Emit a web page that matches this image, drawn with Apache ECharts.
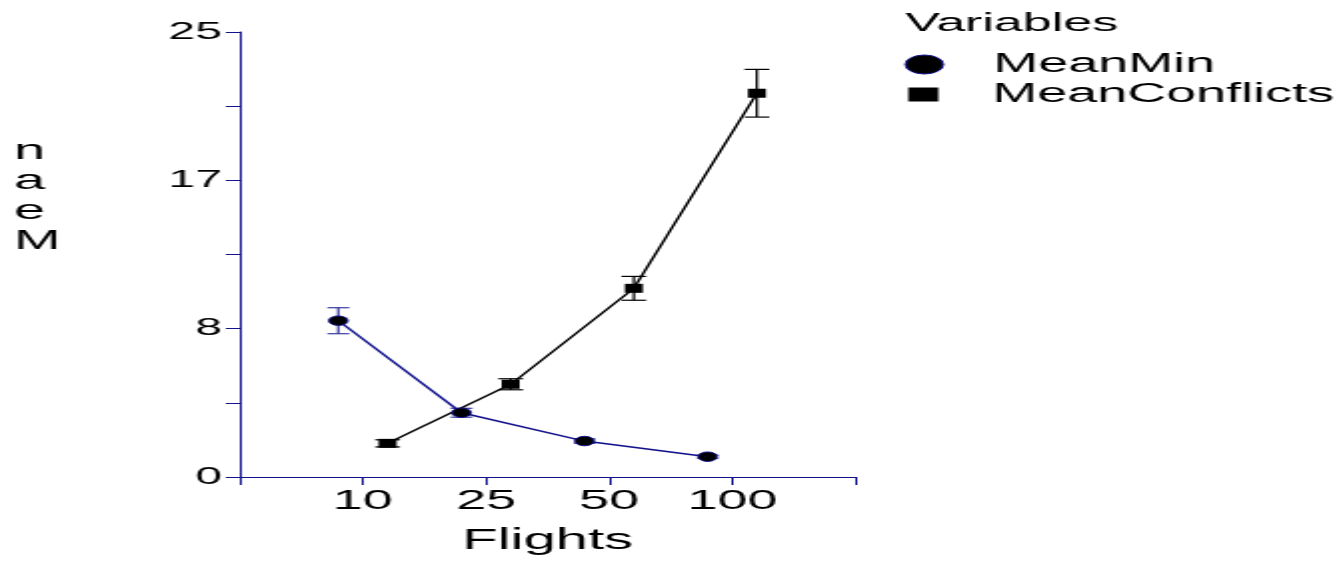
<!DOCTYPE html>
<html><head><meta charset="utf-8">
<script src="https://cdn.jsdelivr.net/npm/echarts@6/dist/echarts.min.js"></script>
<style>
html,body{margin:0;padding:0;background:#fff;overflow:hidden;width:1337px;height:561px}
#wrap{width:1337px;height:561px;overflow:hidden;position:relative}
#chart{width:669px;height:561px;transform:scaleX(1.998505);transform-origin:0 0;position:absolute;left:0;top:0}
</style></head><body>
<div id="wrap"><div id="chart"></div></div>
<script>
// Data
const categories = ['10', '25', '50', '100'];
const meanMin = [8.78, 3.61, 2.02, 1.14];
const meanMinErr = [0.73, 0.25, 0.12, 0.08];
const meanConflicts = [1.89, 5.21, 10.6, 21.56];
const meanConflictsErr = [0.2, 0.31, 0.67, 1.34];
const yTickLabels = ['0', '8', '17', '25'];

const NAVY = '#12128c';
const FONT = '"Liberation Sans", Arial, Helvetica, sans-serif';
const DODGE = 0.2;

const chart = echarts.init(document.getElementById('chart'), null, {renderer: 'canvas'});

function pts(vals, off) { return vals.map((v, i) => [i + 1 + off, v]); }

function errSeries(name, vals, errs, off, color, capHalf) {
  return {
    type: 'custom', name: name, silent: true, z: 1,
    renderItem: function (params, api) {
      const x = api.value(0), y = api.value(1), e = api.value(2);
      const t = api.coord([x, y + e]);
      const b = api.coord([x, y - e]);
      const st = {stroke: color, lineWidth: 1.2};
      return {type: 'group', children: [
        {type: 'line', shape: {x1: t[0], y1: t[1], x2: b[0], y2: b[1]}, style: st},
        {type: 'line', shape: {x1: t[0] - capHalf, y1: t[1], x2: t[0] + capHalf, y2: t[1]}, style: st},
        {type: 'line', shape: {x1: b[0] - capHalf, y1: b[1], x2: b[0] + capHalf, y2: b[1]}, style: st}
      ]};
    },
    data: vals.map((v, i) => [i + 1 + off, v, errs[i]])
  };
}

const option = {
  animation: false,
  backgroundColor: '#fff',
  grid: {left: 120, right: 241, top: 32, bottom: 84, containLabel: false},
  xAxis: {
    type: 'value', min: 0, max: 5, interval: 1,
    name: 'Flights', nameLocation: 'middle', nameGap: 49,
    nameTextStyle: {fontFamily: FONT, fontSize: 29, color: '#000'},
    axisLine: {show: true, lineStyle: {color: NAVY, width: 1}},
    axisTick: {show: true, length: 8, inside: false, lineStyle: {color: NAVY, width: 1}},
    axisLabel: {
      margin: 11, fontFamily: FONT, fontSize: 27, color: '#000',
      formatter: function (v) { return categories[Math.round(v) - 1] || ''; }
    },
    splitLine: {show: false}
  },
  yAxis: {
    type: 'value', min: 0, max: 25, interval: 25 / 6,
    axisLine: {show: true, lineStyle: {color: NAVY, width: 1}},
    axisTick: {show: true, length: 7, inside: false, lineStyle: {color: NAVY, width: 1}},
    axisLabel: {
      margin: 9, fontFamily: FONT, fontSize: 24, color: '#000',
      formatter: function (v, i) { return i % 2 === 0 ? (yTickLabels[i / 2] || '') : ''; }
    },
    splitLine: {show: false}
  },
  legend: [
    {
      left: 447.5, top: 46, orient: 'vertical', itemWidth: 19, itemHeight: 19,
      selectedMode: false,
      textStyle: {fontFamily: FONT, fontSize: 27, color: '#000', padding: [0, 0, 0, 20], lineHeight: 27},
      data: [{name: 'MeanMin', icon: 'circle', itemStyle: {color: '#000', borderColor: NAVY, borderWidth: 1}}]
    },
    {
      left: 449.5, top: 76, orient: 'vertical', itemWidth: 15, itemHeight: 14,
      selectedMode: false,
      textStyle: {fontFamily: FONT, fontSize: 27, color: '#000', padding: [0, 0, 0, 22], lineHeight: 27},
      data: [{name: 'MeanConflicts', icon: 'rect', itemStyle: {color: '#000', borderWidth: 0}}]
    }
  ],
  graphic: [
    {type: 'text', left: 453, top: 11, style: {text: 'Variables', fontFamily: FONT, fontSize: 26, fill: '#000'}},
    {type: 'text', left: 7, top: 136, style: {text: 'n\na\ne\nM', fontFamily: FONT, fontSize: 28, lineHeight: 30, fill: '#000', align: 'left'}}
  ],
  series: [
    errSeries('MeanMinErr', meanMin, meanMinErr, -DODGE, '#3a3aa0', 5.5),
    errSeries('MeanConflictsErr', meanConflicts, meanConflictsErr, DODGE, '#000', 6.2),
    {
      type: 'line', name: 'MeanMin', data: pts(meanMin, -DODGE), z: 3,
      symbol: 'circle', symbolSize: 9.5, showSymbol: true,
      lineStyle: {color: NAVY, width: 1.4},
      itemStyle: {color: '#000', borderColor: NAVY, borderWidth: 1}
    },
    {
      type: 'line', name: 'MeanConflicts', data: pts(meanConflicts, DODGE), z: 3,
      symbol: 'rect', symbolSize: 9, showSymbol: true,
      lineStyle: {color: '#000', width: 1.4},
      itemStyle: {color: '#000'}
    }
  ]
};
chart.setOption(option);
</script>
</body></html>
